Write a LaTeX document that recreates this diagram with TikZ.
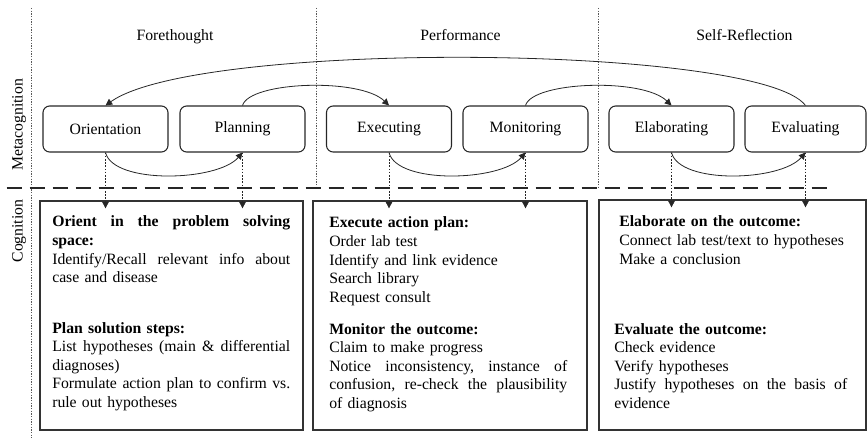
\documentclass[tikz,border=0pt]{standalone}
\usepackage{fontspec}
\setmainfont{Liberation Serif}
\usetikzlibrary{arrows.meta,calc}
\newcommand{\jfull}[1]{\leavevmode\hbox to 178.5pt{#1}}
\newcommand{\jnarrow}[1]{\leavevmode\hbox to 174.75pt{#1}}
\begin{document}
\begin{tikzpicture}[x=0.75pt,y=-0.75pt,
  font=\fontsize{11.8pt}{13.9pt}\selectfont,
  phase/.style={draw=black!85, line width=0.8pt, rounded corners=5pt,
    minimum width=93.75pt, minimum height=34.5pt, inner sep=0pt},
  cogbox/.style={draw=black!80, line width=0.9pt, inner sep=0pt},
  txt/.style={anchor=base west, inner sep=0pt, align=left, text width=178.5pt},
  tipstyle/.style={-{Triangle[length=5pt,width=5pt]}},
  flow/.style={tipstyle, line width=0.6pt, black!85},
  drop/.style={tipstyle, line width=0.5pt, dash pattern=on 1.2pt off 1.2pt, black!85},
  guide/.style={line width=0.5pt, dash pattern=on 1pt off 1pt, black!65},
  title/.style={anchor=base, inner sep=0pt},
]
\useasboundingbox (0,0) rectangle (867,438);

% guide lines
\draw[guide] (31,8) -- (31,438);
\draw[guide] (316,8) -- (316,188);
\draw[guide] (598,8) -- (598,188);
\draw[line width=2pt, black!85, dash pattern=on 11.25pt off 6pt, dash phase=-5pt] (0,188) -- (828,188);

% titles
\node[title] (t1) at (175,41) {Forethought};
\node[title] (t2) at (460.5,41) {Performance};
\node[title] (t3) at (744.5,41) {Self-Reflection};
\node[rotate=90, inner sep=0pt] (meta) at (19,125) {Metacognition};
\node[rotate=90, inner sep=0pt] (cogn) at (19,231) {Cognition};

% phase nodes
\node[phase] (orient) at (105.5,129) {Orientation};
\node[phase] (plan) at (242.5,129) {Planning};
\node[phase] (exec) at (389,129) {Executing};
\node[phase] (monit) at (525.5,129) {Monitoring};
\node[phase] (elab) at (671.5,129) {Elaborating};
\node[phase, minimum width=90.75pt] (evalu) at (805.5,129) {Evaluating};

% cognition boxes
\node[cogbox, minimum width=197.25pt, minimum height=171.75pt] (box1) at (171.5,315.5) {};
\node[cogbox, minimum width=205.5pt, minimum height=171.75pt] (box2) at (450,315.5) {};
\node[cogbox, minimum width=200.25pt, minimum height=172.5pt] (box3) at (732.5,315) {};

% box texts
\node[txt] (b1a) at (52,227) {%
\jfull{\bfseries Orient\hfill in\hfill the\hfill problem\hfill solving}\\
\textbf{space:}\\
\jfull{Identify/Recall\hfill relevant\hfill info\hfill about}\\
case and disease};
\node[txt] (b1b) at (52,333) {%
\textbf{Plan solution steps:}\\
\jfull{List\hfill hypotheses\hfill (main\hfill \&\hfill differential}\\
diagnoses)\\
\jfull{Formulate\hfill action\hfill plan\hfill to\hfill confirm\hfill vs.}\\
rule out hypotheses};

\node[txt] (b2a) at (329,228) {%
\textbf{Execute action plan:}\\
Order lab test\\
Identify and link evidence\\
Search library\\
Request consult};
\node[txt] (b2b) at (329,334) {%
\textbf{Monitor the outcome:}\\
Claim to make progress\\
\jfull{Notice\hfill inconsistency,\hfill instance\hfill of}\\
\jfull{confusion,\hfill re-check\hfill the\hfill plausibility}\\
of diagnosis};

\node[txt, text width=174.75pt] (b3a) at (619,227) {%
\textbf{Elaborate on the outcome:}\\
Connect lab test/text to hypotheses\\
Make a conclusion};
\node[txt, text width=174.75pt] (b3b) at (614,334) {%
\textbf{Evaluate the outcome:}\\
Check evidence\\
Verify hypotheses\\
\jnarrow{Justify\hfill hypotheses\hfill on\hfill the\hfill basis\hfill of}\\
evidence};

% curved arrows below
\draw[flow] (orient.south) .. controls +(8,32) and +(-25,29) .. (plan.south);
\draw[flow] (exec.south) .. controls +(8,32) and +(-25,29) .. (monit.south);
\draw[flow] (elab.south) .. controls +(8,32) and +(-25,29) .. (evalu.south);

% curved arrows above
\draw[flow] (plan.north) .. controls +(7,-24) and +(-29,-28) .. (exec.north);
\draw[flow] (monit.north) .. controls +(7,-24) and +(-29,-28) .. (elab.north);
\draw[flow] (evalu.north) .. controls +(-46,-61) and +(93,-66) .. (orient.north);

% dotted drops
\foreach \n/\b in {orient/box1, plan/box1, exec/box2, monit/box2, elab/box3, evalu/box3}{
  \draw[drop] (\n.south) -- ($(\n.south |- \b.north)+(0,8)$);
}
\end{tikzpicture}
\end{document}
